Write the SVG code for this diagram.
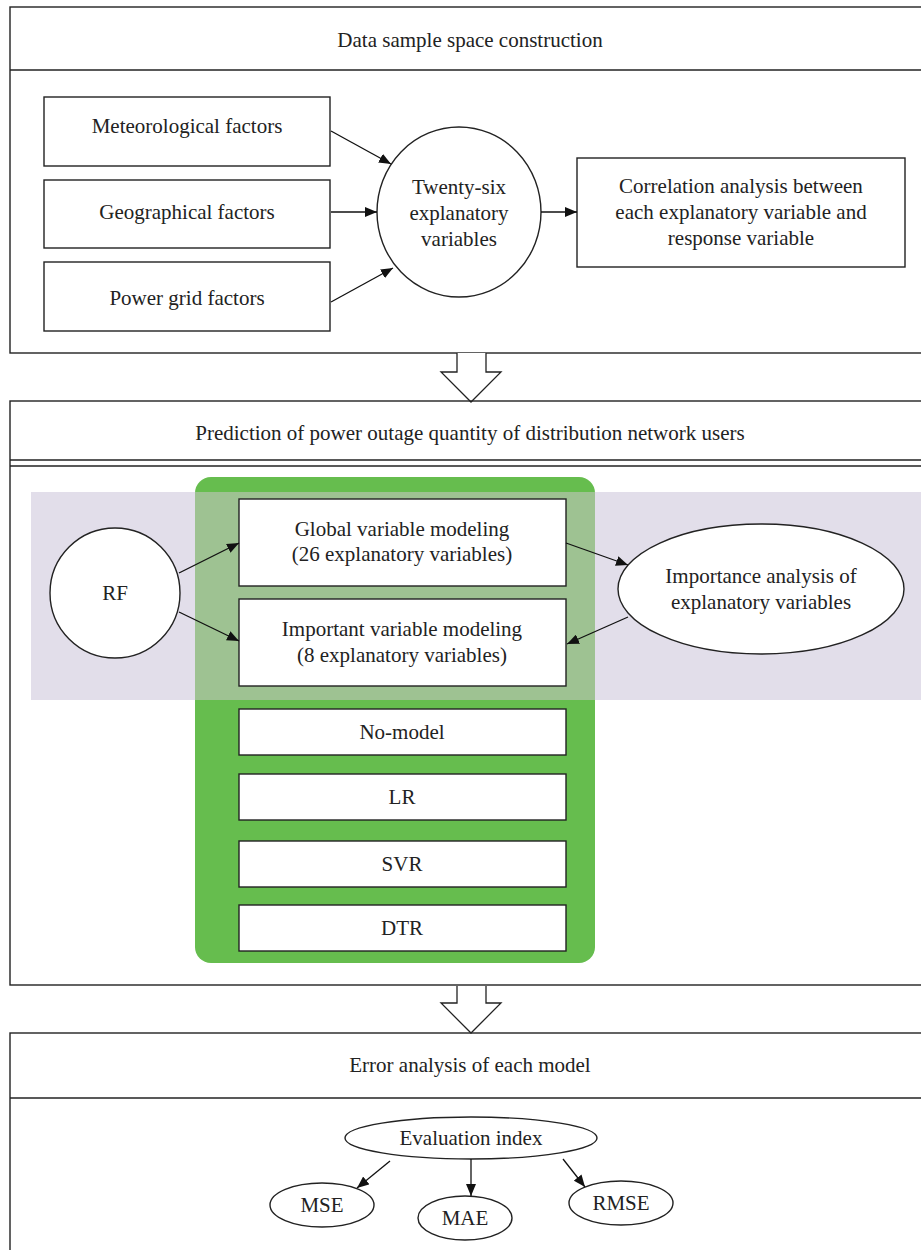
<svg xmlns="http://www.w3.org/2000/svg" width="921" height="1250" viewBox="0 0 921 1250">
<defs>
<marker id="ah" viewBox="0 0 12 10" refX="12" refY="5" markerWidth="12" markerHeight="10" markerUnits="userSpaceOnUse" orient="auto">
<path d="M0,0 L12,5 L0,10 z" fill="#111"/>
</marker>
</defs>
<style>
.frame{fill:none;stroke:#222;stroke-width:1.4}
.box{fill:#fff;stroke:#222;stroke-width:1.4}
.t{font-family:"Liberation Serif","Times New Roman",serif;font-size:21px;fill:#222;text-anchor:middle}
.conn{fill:none;stroke:#111;stroke-width:1.3;marker-end:url(#ah)}
.hollow{fill:#fff;stroke:#222;stroke-width:1.3}
</style>
<rect width="921" height="1250" fill="#fff"/>

<!-- Section 1 -->
<g id="section1">
<rect class="frame" x="10" y="7" width="930" height="346"/>
<line class="frame" x1="10" y1="70" x2="930" y2="70"/>
<text class="t" x="470" y="47">Data sample space construction</text>
</g>
<g id="meteorological"><rect class="box" x="44" y="97" width="286" height="69"/><text class="t" x="187" y="133">Meteorological factors</text></g>
<g id="geographical"><rect class="box" x="44" y="180" width="286" height="68"/><text class="t" x="187" y="219">Geographical factors</text></g>
<g id="powergrid"><rect class="box" x="44" y="262" width="286" height="69"/><text class="t" x="187" y="305">Power grid factors</text></g>
<g id="twentysix"><ellipse class="box" cx="459" cy="212" rx="82" ry="85"/>
<text class="t" x="459" y="194">Twenty-six</text><text class="t" x="459" y="220">explanatory</text><text class="t" x="459" y="246">variables</text></g>
<g id="correlation"><rect class="box" x="577" y="158" width="328" height="109"/>
<text class="t" x="741" y="193">Correlation analysis between</text><text class="t" x="741" y="219">each explanatory variable and</text><text class="t" x="741" y="245">response variable</text></g>

<!-- hollow arrow 1 -->
<g id="bigarrow1"><path class="hollow" d="M457,353 L457,372 L441,372 L471,402 L501,372 L486,372 L486,353"/></g>

<!-- Section 2 -->
<g id="section2">
<rect class="frame" x="10" y="401" width="930" height="584"/>
<line class="frame" x1="10" y1="460" x2="930" y2="460"/>
<line class="frame" x1="10" y1="466" x2="930" y2="466"/>
<text class="t" x="470" y="440">Prediction of power outage quantity of distribution network users</text>
<rect x="31" y="492" width="890" height="208" fill="#E2DEEA"/>
<rect x="195" y="477" width="400" height="486" rx="16" fill="#66BD4E"/>
<rect x="195" y="492" width="400" height="208" fill="#9EC292"/>
</g>
<g id="global"><rect class="box" x="239" y="499" width="327" height="87"/>
<text class="t" x="402" y="536">Global variable modeling</text><text class="t" x="402" y="561">(26 explanatory variables)</text></g>
<g id="important"><rect class="box" x="239" y="599" width="327" height="87"/>
<text class="t" x="402" y="636">Important variable modeling</text><text class="t" x="402" y="662">(8 explanatory variables)</text></g>
<g id="rf"><ellipse class="box" cx="115" cy="593" rx="65" ry="65"/><text class="t" x="115" y="600">RF</text></g>
<g id="importance"><ellipse class="box" cx="761" cy="589" rx="143" ry="65"/>
<text class="t" x="761" y="583">Importance analysis of</text><text class="t" x="761" y="609">explanatory variables</text></g>
<g id="nomodel"><rect class="box" x="239" y="709" width="327" height="46"/><text class="t" x="402" y="739">No-model</text></g>
<g id="lr"><rect class="box" x="239" y="774" width="327" height="46"/><text class="t" x="402" y="804">LR</text></g>
<g id="svr"><rect class="box" x="239" y="841" width="327" height="46"/><text class="t" x="402" y="871">SVR</text></g>
<g id="dtr"><rect class="box" x="239" y="905" width="327" height="46"/><text class="t" x="402" y="935">DTR</text></g>

<!-- hollow arrow 2 -->
<g id="bigarrow2"><path class="hollow" d="M457,986 L457,1003 L441,1003 L471,1033 L501,1003 L486,1003 L486,986"/></g>

<!-- Section 3 -->
<g id="section3">
<rect class="frame" x="10" y="1033" width="930" height="240"/>
<line class="frame" x1="10" y1="1098" x2="930" y2="1098"/>
<text class="t" x="470" y="1072">Error analysis of each model</text>
</g>
<g id="evaluation"><ellipse class="box" cx="471" cy="1138" rx="126" ry="21"/><text class="t" x="471" y="1145">Evaluation index</text></g>
<g id="mse"><ellipse class="box" cx="322" cy="1205" rx="52" ry="22"/><text class="t" x="322" y="1212">MSE</text></g>
<g id="mae"><ellipse class="box" cx="465" cy="1218" rx="47" ry="22"/><text class="t" x="465" y="1225">MAE</text></g>
<g id="rmse"><ellipse class="box" cx="621" cy="1203" rx="52" ry="22"/><text class="t" x="621" y="1210">RMSE</text></g>

<g id="connectors">
<line class="conn" x1="331" y1="131" x2="391" y2="164"/>
<line class="conn" x1="331" y1="212" x2="377" y2="212"/>
<line class="conn" x1="331" y1="302" x2="393" y2="268"/>
<line class="conn" x1="541" y1="212" x2="577" y2="212"/>
<line class="conn" x1="179" y1="573" x2="239" y2="543"/>
<line class="conn" x1="179" y1="612" x2="239" y2="641"/>
<line class="conn" x1="566" y1="543" x2="628" y2="565"/>
<line class="conn" x1="628" y1="617" x2="567" y2="644"/>
<line class="conn" x1="390" y1="1161" x2="357" y2="1188"/>
<line class="conn" x1="471" y1="1159" x2="471" y2="1196"/>
<line class="conn" x1="563" y1="1159" x2="585" y2="1187"/>
</g>
</svg>
